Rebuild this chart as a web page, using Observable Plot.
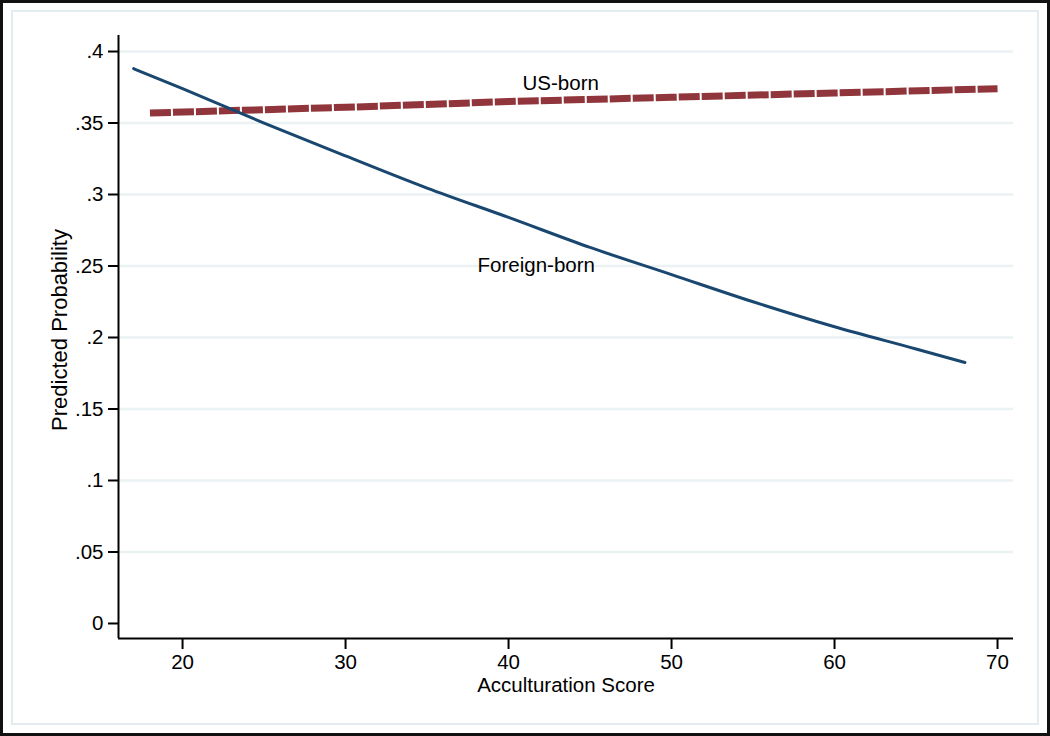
<!DOCTYPE html>
<html>
<head>
<meta charset="utf-8">
<script src="https://cdn.jsdelivr.net/npm/d3@7"></script>
<script src="https://cdn.jsdelivr.net/npm/@observablehq/plot@0.6"></script>
<style>
  html, body { margin: 0; padding: 0; background: #fff; }
  #wrap { position: relative; width: 1050px; height: 736px; overflow: hidden; background: #fff; }
  #outer { position: absolute; left: 0; top: 0; width: 1050px; height: 736px; box-sizing: border-box; border: 3px solid #111; pointer-events: none; }
  #inner { position: absolute; left: 11px; top: 10px; width: 1028px; height: 715px; box-sizing: border-box; border: 2px solid #e3ecee; pointer-events: none; }
  #chart { position: absolute; left: 0; top: 0; }
</style>
</head>
<body>
<div id="wrap">
  <div id="chart"></div>
  <div id="inner"></div>
  <div id="outer"></div>
</div>
<script>
// Foreign-born predicted probability by acculturation score
const foreignX = [17, 20, 25, 30, 35, 40, 45, 50, 55, 60, 65, 68];
const foreignY = [0.388, 0.374, 0.350, 0.327, 0.3045, 0.284, 0.263, 0.244, 0.225, 0.2075, 0.192, 0.1825];
// US-born predicted probability by acculturation score
const usX = [18, 30, 40, 50, 60, 70];
const usY = [0.357, 0.361, 0.365, 0.368, 0.371, 0.374];
// Axis ticks
const xTicks = [20, 30, 40, 50, 60, 70];
const yTicks = [0, 0.05, 0.1, 0.15, 0.2, 0.25, 0.3, 0.35, 0.4];
const gridTicks = [0.05, 0.1, 0.15, 0.2, 0.25, 0.3, 0.35, 0.4];
// Axis titles
const xTitle = ["Acculturation Score"];
const yTitle = ["Predicted Probability"];
// Series labels
const labelText = ["US-born", "Foreign-born"];
const labelX = [43.2, 41.7];
const labelY = [0.3776, 0.2503];

const foreign = foreignX.map((x, i) => ({x, y: foreignY[i]}));
const us = usX.map((x, i) => ({x, y: usY[i]}));
const labels = labelText.map((t, i) => ({t, x: labelX[i], y: labelY[i]}));

const xDomain = [16.07, 70.98];
const yDomain = [-0.0105, 0.4112];
const fmtY = d => d === 0 ? "0" : String(+d.toFixed(2)).replace(/^0/, "");
const FONT = "'Liberation Sans', Arial, sans-serif";

const chart = Plot.plot({
  width: 1050,
  height: 736,
  marginLeft: 118,
  marginRight: 37,
  marginTop: 35,
  marginBottom: 98,
  style: { fontFamily: FONT, fontSize: "20.5px", color: "#000", background: "transparent" },
  x: { domain: xDomain },
  y: { domain: yDomain },
  marks: [
    Plot.ruleY(gridTicks, { stroke: "#eaf2f3", strokeWidth: 2.5 }),
    Plot.axisX(xTicks, { tickSize: 11, tickPadding: 5, strokeWidth: 2, fontSize: 20.5, label: null }),
    Plot.axisY(yTicks, { tickSize: 10, tickPadding: 5, strokeWidth: 2, tickFormat: fmtY, fontSize: 20.5, label: null }),
    Plot.ruleX([xDomain[0]], { stroke: "#000", strokeWidth: 2 }),
    Plot.ruleY([yDomain[0]], { stroke: "#000", strokeWidth: 2 }),
    Plot.text(xTitle, { frameAnchor: "bottom", dy: 47, text: d => d, fontSize: 20.5, fill: "#000", lineAnchor: "middle", textAnchor: "middle" }),
    Plot.text(yTitle, { frameAnchor: "left", dx: -59, dy: -7, rotate: -90, text: d => d, fontSize: 22, fill: "#000", lineAnchor: "middle", textAnchor: "middle" }),
    Plot.line(us, { x: "x", y: "y", stroke: "#90353b", strokeWidth: 7, strokeDasharray: "21,2", strokeLinecap: "butt" }),
    Plot.line(foreign, { x: "x", y: "y", stroke: "#1a476f", strokeWidth: 3, curve: "monotone-x" }),
    Plot.text(labels, { x: "x", y: "y", text: "t", fontSize: 20.5, fill: "#000" })
  ]
});
document.getElementById("chart").appendChild(chart);
</script>
</body>
</html>
